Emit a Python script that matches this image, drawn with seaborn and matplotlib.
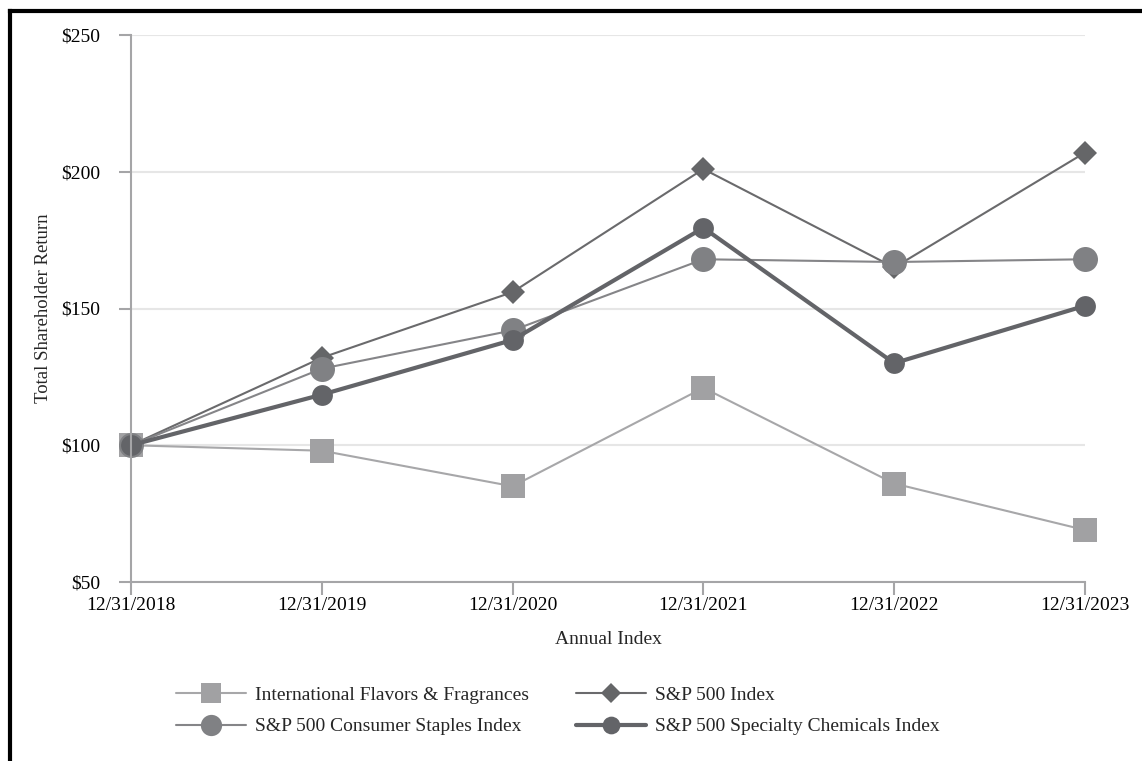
import matplotlib
matplotlib.use('Agg')
import matplotlib.pyplot as plt
import matplotlib.lines as mlines
import seaborn as sns
import pandas as pd

# data
dates = ['12/31/2018', '12/31/2019', '12/31/2020', '12/31/2021', '12/31/2022', '12/31/2023']
iff = [100, 98, 85, 121, 86, 69]
sp500 = [100, 132, 156, 201, 165, 207]
staples = [100, 128, 142, 168, 167, 168]
chemicals = [100, 118.5, 138.5, 179.5, 130, 151]
y_ticks = [50, 100, 150, 200, 250]

series_names = ['International Flavors & Fragrances', 'S&P 500 Index',
                'S&P 500 Consumer Staples Index', 'S&P 500 Specialty Chemicals Index']

sns.set_theme(style='white')
plt.rcParams['font.family'] = ['Liberation Serif', 'DejaVu Serif']

fig = plt.figure(figsize=(11.42, 7.61), dpi=100)
ax = fig.add_axes([131 / 1142, 1 - 582 / 761, (1085 - 131) / 1142, (582 - 35) / 761])

df = pd.DataFrame({'pos': range(len(dates)), 'iff': iff, 'sp500': sp500,
                   'staples': staples, 'chemicals': chemicals})

styles = [
    ('iff', '#a1a1a3', '#a7a7a9', 's', 17, 1.5),
    ('sp500', '#656668', '#6a6a6c', 'D', 12, 1.5),
    ('staples', '#808184', '#858588', 'o', 18, 1.5),
    ('chemicals', '#636468', '#636468', 'o', 15, 3.0),
]

handles = []
for (col, mcolor, lcolor, marker, ms, lw), name in zip(styles, series_names):
    sns.lineplot(data=df, x='pos', y=col, ax=ax, color=lcolor, lw=lw,
                 marker=marker, markersize=ms, markerfacecolor=mcolor,
                 markeredgewidth=0, clip_on=False)
    handles.append(mlines.Line2D([], [], color=lcolor, lw=lw, marker=marker,
                                 markersize=ms * 0.85, markerfacecolor=mcolor,
                                 markeredgewidth=0, label=name))

ax.set_xlim(0, len(dates) - 1)
ax.set_ylim(50, 250)
ax.set_xticks(range(len(dates)))
ax.set_xticklabels(dates)
ax.set_yticks(y_ticks)
ax.set_yticklabels([f'${v}' for v in y_ticks])
ax.yaxis.grid(True, color='#e6e6e6', lw=1.5)
ax.xaxis.grid(False)

for side in ['top', 'right']:
    ax.spines[side].set_visible(False)
for side in ['left', 'bottom']:
    ax.spines[side].set_color('#a5a5a7')
    ax.spines[side].set_linewidth(1.5)

ax.tick_params(axis='both', which='major', direction='out', length=9, width=1.5,
               color='#a5a5a7', labelsize=14, labelcolor='black',
               bottom=True, left=True)
ax.tick_params(axis='y', pad=13)
ax.tick_params(axis='x', pad=2)
ax.set_axisbelow(True)

ax.set_xlabel('Annual Index', fontsize=14, labelpad=12)
ax.set_ylabel('Total Shareholder Return', fontsize=13.5, labelpad=7)

# legend: column-wise order -> IFF, Staples | S&P 500, Chemicals
order = [handles[0], handles[2], handles[1], handles[3]]
fig.legend(handles=order, loc='center left', bbox_to_anchor=(176 / 1142, 1 - 711 / 761),
           ncol=2, frameon=False, fontsize=14, handlelength=3.6, handletextpad=0.45,
           columnspacing=2.45, labelspacing=0.7, borderpad=0, borderaxespad=0)

# black frame on top and left edges
fig.add_artist(mlines.Line2D([10 / 1142, 1], [1 - 11 / 761, 1 - 11 / 761],
                             transform=fig.transFigure, color='black', lw=3,
                             solid_capstyle='projecting'))
fig.add_artist(mlines.Line2D([10 / 1142, 10 / 1142], [0, 1 - 11 / 761],
                             transform=fig.transFigure, color='black', lw=3,
                             solid_capstyle='projecting'))

fig.savefig('out.png', dpi=100)
